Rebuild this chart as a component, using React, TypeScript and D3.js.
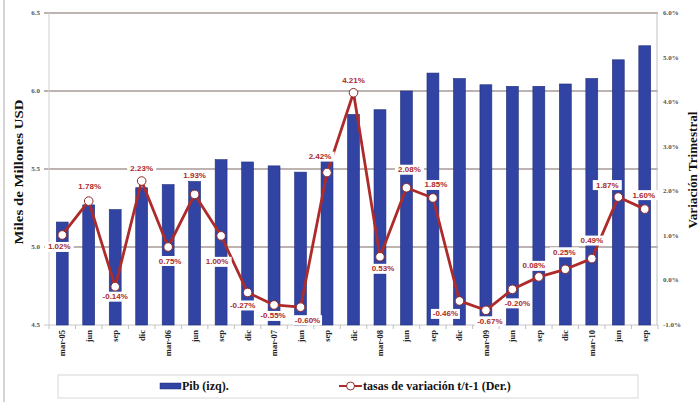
import React from "react";
import * as d3 from "d3";

const categories = ["mar-05","jun","sep","dic","mar-06","jun","sep","dic","mar-07","jun","sep","dic","mar-08","jun","sep","dic","mar-09","jun","sep","dic","mar-10","jun","sep"];
const pib = [5.16,5.27,5.24,5.38,5.40,5.42,5.56,5.545,5.52,5.48,5.55,5.85,5.88,6.0,6.115,6.08,6.04,6.03,6.03,6.045,6.08,6.20,6.29];
const tasas = [1.02,1.78,-0.14,2.23,0.75,1.93,1.00,-0.27,-0.55,-0.60,2.42,4.21,0.53,2.08,1.85,-0.46,-0.67,-0.20,0.08,0.25,0.49,1.87,1.60];
const leftTicks = [4.5,5.0,5.5,6.0,6.5];
const rightTicks = [-1,0,1,2,3,4,5,6];
// label placement offsets (layout only)
const labelDx = [-3,1,0,0,2,0,-4,-5,-1,7,-7,0,3,3,3,-14,4,5,-5,-1,0,-11,-1];
const labelDy = [12,-15,10,-13,14,-19,26,13,11,13,-16,-12,12,-18,-13,13,11,14,-11,-17,-18,-12,-14];

const W = 699, H = 407;
const L = 49, R = 658, T = 13, B = 325;

export default function App() {
  const x = d3.scaleBand<number>().domain(d3.range(categories.length)).range([L, R]).paddingInner(0.55).paddingOuter(0.275);
  const yL = d3.scaleLinear().domain([4.5, 6.5]).range([B, T]);
  const yR = d3.scaleLinear().domain([-1, 6]).range([B, T]);
  const cx = (i: number) => (x(i) as number) + x.bandwidth() / 2;
  const line = d3.line<number>().x((_, i) => cx(i)).y(d => yR(d));
  const serif = "'Liberation Serif','Times New Roman',serif";
  const sans = "'Liberation Sans',Arial,sans-serif";
  const red = "#ad2b2a";
  const fmt = (v: number) => v.toFixed(2) + "%";
  return (
    <svg width={W} height={H} style={{ position: "absolute", left: 0, top: 0 }} xmlns="http://www.w3.org/2000/svg">
      <rect x={0} y={0} width={W} height={H} fill="#fff" />
      <line x1={4} x2={4} y1={0} y2={402} stroke="#b8b8b8" strokeWidth={1.2} />
      {/* gridlines */}
      {leftTicks.map(t => (
        <line key={"g" + t} x1={44} x2={R} y1={yL(t)} y2={yL(t)} stroke={t === 4.5 ? "#c8c8c8" : "#7d6a66"} strokeWidth={t === 4.5 ? 1 : 1.2} />
      ))}
      <line x1={L} x2={L} y1={T} y2={B} stroke="#d0d0d0" />
      <line x1={R - 1} x2={R - 1} y1={T} y2={B} stroke="#c0c0c0" />
      {/* x ticks */}
      {d3.range(categories.length + 1).map(i => (
        <line key={"xt" + i} x1={L + i * x.step()} x2={L + i * x.step()} y1={B} y2={B + 4} stroke="#c0c0c0" />
      ))}
      {/* bars */}
      {pib.map((v, i) => (
        <rect key={"b" + i} x={x(i)} y={yL(v)} width={x.bandwidth()} height={B - yL(v)} fill="#3143a3" stroke="#22307a" strokeWidth={0.6} />
      ))}
      {/* line */}
      <path d={line(tasas) || ""} fill="none" stroke={red} strokeWidth={2.8} strokeLinejoin="round" />
      {tasas.map((v, i) => (
        <circle key={"c" + i} cx={cx(i)} cy={yR(v)} r={4.3} fill="#fff" stroke="#8e2a27" strokeWidth={1} />
      ))}
      {/* data labels */}
      {tasas.map((v, i) => {
        const lx = cx(i) + labelDx[i];
        const ly = yR(v) + labelDy[i];
        return (
          <g key={"l" + i}>
            <rect x={lx - 14.5} y={ly - 5} width={29} height={10} fill="#fff" />
            <text x={lx} y={ly} textAnchor="middle" dominantBaseline="central" fontFamily={sans} fontWeight="bold" fontSize={8} fill={red}>{fmt(v)}</text>
          </g>
        );
      })}
      {/* left axis labels */}
      {leftTicks.map(t => (
        <text key={"lt" + t} x={40} y={yL(t)} textAnchor="end" dominantBaseline="central" fontFamily={serif} fontWeight="bold" fontSize={7} fill="#555">{t.toFixed(1)}</text>
      ))}
      {/* right axis labels */}
      {rightTicks.map(t => (
        <text key={"rt" + t} x={663} y={yR(t)} textAnchor="start" dominantBaseline="central" fontFamily={serif} fontWeight="bold" fontSize={7} fill="#555">{t.toFixed(1) + "%"}</text>
      ))}
      {/* x labels */}
      {categories.map((c, i) => (
        <text key={"xl" + i} transform={`translate(${cx(i) + 3},${B + 5}) rotate(-90)`} textAnchor="end" fontFamily={serif} fontWeight="bold" fontSize={8.5} fill="#222">{c}</text>
      ))}
      {/* axis titles */}
      <text transform={`translate(23,172) rotate(-90)`} textAnchor="middle" fontFamily={serif} fontWeight="bold" fontSize={12.5} fill="#111" textLength={145} lengthAdjust="spacingAndGlyphs">Miles de Millones USD</text>
      <text transform={`translate(697,170) rotate(-90)`} textAnchor="middle" fontFamily={serif} fontWeight="bold" fontSize={12} fill="#111" textLength={117} lengthAdjust="spacingAndGlyphs">Variación Trimestral</text>
      {/* legend */}
      <rect x={58} y={375} width={580} height={23} fill="#fff" stroke="#d8d8d8" />
      <rect x={160} y={383} width={21} height={6} fill="#3143a3" stroke="#22307a" strokeWidth={0.5} />
      <text x={182} y={390} fontFamily={serif} fontWeight="bold" fontSize={12} fill="#111">Pib (izq).</text>
      <line x1={339} x2={362} y1={386} y2={386} stroke={red} strokeWidth={2} />
      <circle cx={350.5} cy={386} r={4} fill="#fff" stroke="#8e2a27" strokeWidth={1} />
      <text x={363} y={390} fontFamily={serif} fontWeight="bold" fontSize={12} fill="#111">tasas de variación t/t-1 (Der.)</text>
    </svg>
  );
}
